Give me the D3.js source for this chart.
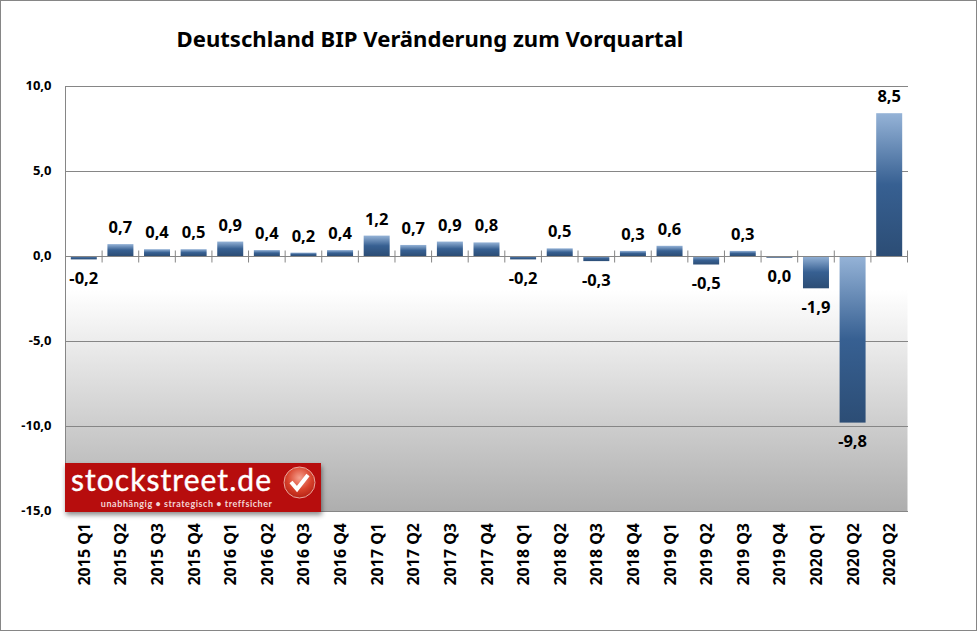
<!DOCTYPE html>
<html><head><meta charset="utf-8">
<script src="https://cdn.jsdelivr.net/npm/d3@7/dist/d3.min.js"></script>
<style>html,body{margin:0;padding:0;background:#fff}svg{display:block}text{font-family:"Noto Sans",sans-serif;font-weight:700;fill:#000}</style>
</head><body><svg id="c" width="977" height="632"></svg>
<script>
const quarters=["2015 Q1","2015 Q2","2015 Q3","2015 Q4","2016 Q1","2016 Q2","2016 Q3","2016 Q4","2017 Q1","2017 Q2","2017 Q3","2017 Q4","2018 Q1","2018 Q2","2018 Q3","2018 Q4","2019 Q1","2019 Q2","2019 Q3","2019 Q4","2020 Q1","2020 Q2","2020 Q2"];
const values=[-0.2,0.7,0.4,0.4,0.85,0.35,0.2,0.35,1.2,0.65,0.85,0.8,-0.2,0.45,-0.3,0.3,0.6,-0.5,0.3,-0.1,-1.9,-9.8,8.4];
const valueLabels=["-0,2","0,7","0,4","0,5","0,9","0,4","0,2","0,4","1,2","0,7","0,9","0,8","-0,2","0,5","-0,3","0,3","0,6","-0,5","0,3","0,0","-1,9","-9,8","8,5"];
const yTicks=[10,5,0,-5,-10,-15];
const titleText="Deutschland BIP Veränderung zum Vorquartal";
const fmt=v=>v.toFixed(1).replace(".",",");
const svg=d3.select("#c");
const m={l:65.5,r:907.5,t:86,b:511};
const x=d3.scaleBand().domain(d3.range(quarters.length)).range([m.l,m.r]).paddingInner(0.29).paddingOuter(0.145);
const slot=(m.r-m.l)/quarters.length;
const y=d3.scaleLinear().domain([-15,10]).range([m.b,m.t]);
const defs=svg.append("defs");
const g=defs.append("linearGradient").attr("id","bar").attr("x1",0).attr("y1",0).attr("x2",0).attr("y2",1);
[[0,"#95b3d7"],[0.5,"#376092"],[1,"#2c4d75"]].forEach(s=>g.append("stop").attr("offset",s[0]).attr("stop-color",s[1]));
const bg=defs.append("linearGradient").attr("id","bg").attr("x1",0).attr("y1",0).attr("x2",0).attr("y2",1);
[[0,"#ffffff"],[1,"#aeaeae"]].forEach(s=>bg.append("stop").attr("offset",s[0]).attr("stop-color",s[1]));
const sh=defs.append("filter").attr("id","sh").attr("x","-5%").attr("y","-20%").attr("width","110%").attr("height","150%");
sh.append("feDropShadow").attr("dx",1).attr("dy",3).attr("stdDeviation",2.5).attr("flood-color","#000").attr("flood-opacity",0.45);
const rg=defs.append("radialGradient").attr("id","ball").attr("cx","0.5").attr("cy","0.35").attr("r","0.7");
[[0,"#f6a08e"],[0.55,"#d8432c"],[1,"#b01c10"]].forEach(s=>rg.append("stop").attr("offset",s[0]).attr("stop-color",s[1]));
svg.append("rect").attr("x",0.5).attr("y",0.5).attr("width",976).attr("height",630).attr("fill","#fff").attr("stroke","#868686");
svg.append("rect").attr("x",m.l).attr("y",y(-2)).attr("width",m.r-m.l).attr("height",m.b-y(-2)).attr("fill","url(#bg)");
const gridAxis=d3.axisLeft(y).tickValues(yTicks).tickSize(-(m.r-m.l)).tickFormat(fmt);
const ya=svg.append("g").attr("transform",`translate(${m.l},0)`).call(gridAxis);
ya.select(".domain").attr("stroke","#868686").attr("d",`M0,${m.t}V${m.b+1}`);
ya.selectAll("line").attr("stroke","#868686").attr("shape-rendering","crispEdges");
ya.selectAll("text").attr("x",-14).attr("dy","0.3em").attr("font-size",13).attr("fill","#000")
  .style("font-family",'"Noto Sans",sans-serif').style("font-weight",700);
svg.append("g").selectAll("rect").data(values).join("rect")
 .attr("x",(d,i)=>x(i)).attr("width",x.bandwidth())
 .attr("y",d=>y(Math.max(0,d))).attr("height",d=>Math.abs(y(d)-y(0)))
 .attr("fill","url(#bar)");
const z=y(0)+0.5;
svg.append("line").attr("x1",m.l).attr("x2",m.r).attr("y1",z).attr("y2",z).attr("stroke","#868686").attr("stroke-width",1.2);
svg.append("g").selectAll("line").data(d3.range(quarters.length+1)).join("line")
 .attr("x1",i=>m.l+i*slot).attr("x2",i=>m.l+i*slot).attr("y1",z-6).attr("y2",z+6).attr("stroke","#868686");
svg.append("g").selectAll("text").data(values).join("text")
 .attr("x",(d,i)=>x(i)+x.bandwidth()/2)
 .attr("text-anchor","middle").attr("font-size",16.5)
 .attr("y",(d,i)=>valueLabels[i]==="0,0"?y(0)+26:(d>=0?y(d)-11:y(d)+24.5))
 .text((d,i)=>valueLabels[i]);
svg.append("g").selectAll("text").data(quarters).join("text")
 .attr("transform",(d,i)=>`translate(${x(i)+x.bandwidth()/2+6},523) rotate(-90)`)
 .attr("text-anchor","end").attr("font-size",16).text(d=>d);
svg.append("text").attr("x",430).attr("y",47).attr("text-anchor","middle").attr("font-size",22.1).text(titleText);
const lg=svg.append("g");
lg.append("rect").attr("x",65).attr("y",463).attr("width",256).attr("height",49).attr("fill","#b70a0f").attr("filter","url(#sh)");
lg.append("text").attr("x",71).attr("y",491).attr("font-size",30).style("font-family","Lato").style("fill","#fff").style("font-weight",400).style("stroke","#fff").style("stroke-width","0.4px").style("letter-spacing","1.05px").text("stockstreet.de");
lg.append("text").attr("x",272.5).attr("y",507).attr("text-anchor","end").attr("font-size",9).style("fill","#f3d6d6").style("letter-spacing","0.55px").style("font-family","Lato").style("font-weight",700).text("unabhängig • strategisch • treffsicher");
lg.append("circle").attr("cx",299.5).attr("cy",482.5).attr("r",15.5).attr("fill","url(#ball)").attr("stroke","#e9a79d").attr("stroke-width",1);
lg.append("path").attr("d","M291,482l6,7l11,-14").attr("fill","none").attr("stroke","#fff").attr("stroke-width",4);
</script></body></html>
